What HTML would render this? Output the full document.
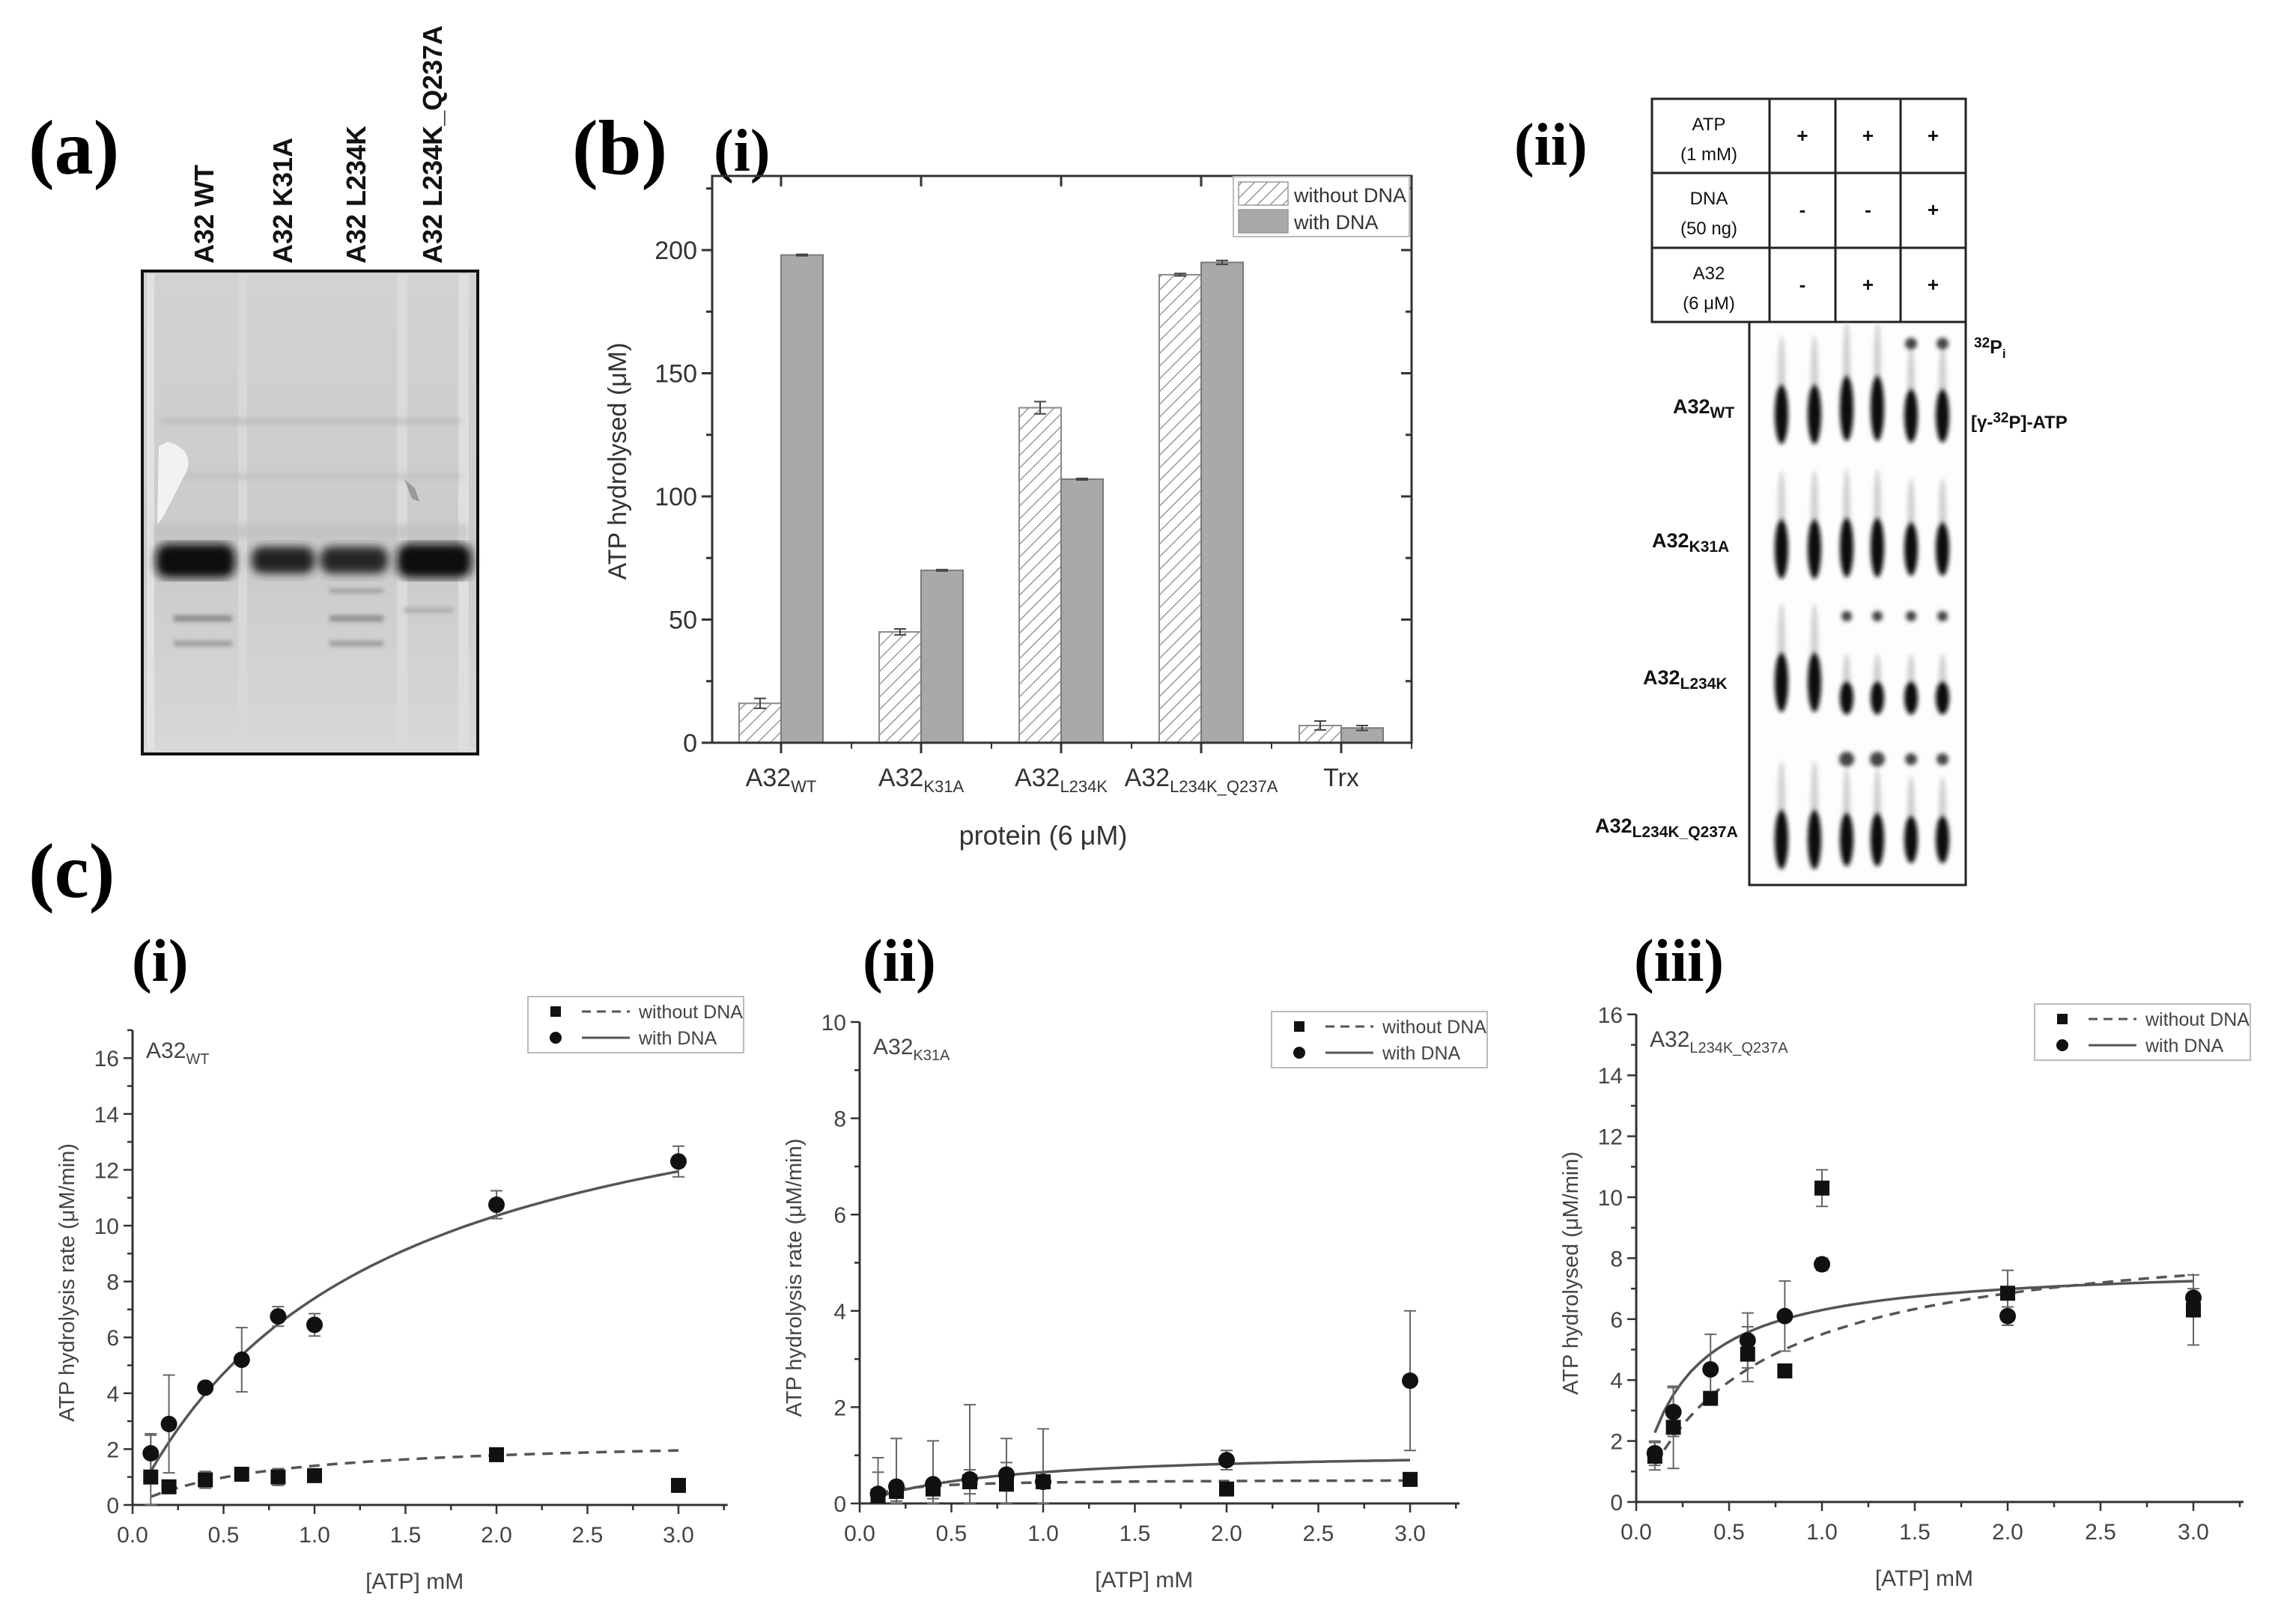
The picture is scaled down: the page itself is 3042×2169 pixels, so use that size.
<!DOCTYPE html>
<html><head><meta charset="utf-8">
<style>
html,body{margin:0;padding:0;background:#fff;}
svg{display:block;}
text{font-family:"Liberation Sans",sans-serif;}
.serif{font-family:"Liberation Serif",serif;font-weight:bold;}
</style></head>
<body>
<svg id="fig" width="3042" height="2169" viewBox="0 0 3042 2169" xmlns="http://www.w3.org/2000/svg">
<defs>
<pattern id="hatch" patternUnits="userSpaceOnUse" width="12" height="12" patternTransform="rotate(45)">
<rect width="12" height="12" fill="#fff"/><line x1="0" y1="0" x2="0" y2="12" stroke="#9a9a9a" stroke-width="3"/>
</pattern>
<filter id="blur4"><feGaussianBlur stdDeviation="4"/></filter>
<filter id="blur6"><feGaussianBlur stdDeviation="6"/></filter>
<filter id="blur3"><feGaussianBlur stdDeviation="3"/></filter>
<linearGradient id="gelg" x1="0" y1="0" x2="0" y2="1">
<stop offset="0" stop-color="#d2d2d2"/><stop offset="0.6" stop-color="#cbcbcb"/><stop offset="1" stop-color="#d8d8d8"/></linearGradient>
</defs>

<!-- panel labels -->
<text class="serif" x="38" y="232" font-size="104">(a)</text>
<text class="serif" x="764" y="232" font-size="104">(b)</text>
<text class="serif" x="953" y="228" font-size="80">(i)</text>
<text class="serif" x="2022" y="220" font-size="80">(ii)</text>
<text class="serif" x="38" y="1198" font-size="104">(c)</text>
<text class="serif" x="176" y="1310" font-size="80">(i)</text>
<text class="serif" x="1152" y="1310" font-size="80">(ii)</text>
<text class="serif" x="2182" y="1310" font-size="80">(iii)</text>

<!-- (a) gel -->
<g>
<rect x="190" y="362" width="448" height="645" fill="url(#gelg)" stroke="#111" stroke-width="4"/>
<rect x="196" y="366" width="10" height="636" fill="#e2e2e2"/>
<rect x="318" y="366" width="12" height="636" fill="#d8d8d8"/>
<rect x="530" y="366" width="14" height="636" fill="#dadada"/>
<rect x="612" y="366" width="14" height="636" fill="#dedede"/>
<g filter="url(#blur4)">
<rect x="215" y="560" width="400" height="5" fill="#b2b2b2"/>
<rect x="215" y="634" width="400" height="5" fill="#bcbcbc"/>
<rect x="205" y="700" width="420" height="20" fill="#bdbdbd" opacity="0.6"/>
</g>
<g filter="url(#blur6)">
<rect x="208" y="726" width="106" height="46" rx="16" fill="#0c0c0c"/>
<rect x="336" y="730" width="84" height="36" rx="14" fill="#222"/>
<rect x="428" y="730" width="90" height="36" rx="14" fill="#252525"/>
<rect x="530" y="726" width="100" height="46" rx="16" fill="#0c0c0c"/>
</g>
<g filter="url(#blur3)">
<rect x="232" y="822" width="78" height="8" fill="#8a8a8a"/>
<rect x="232" y="856" width="78" height="7" fill="#9a9a9a"/>
<rect x="440" y="786" width="72" height="6" fill="#9e9e9e"/>
<rect x="440" y="822" width="72" height="8" fill="#8e8e8e"/>
<rect x="440" y="856" width="72" height="7" fill="#9a9a9a"/>
<rect x="540" y="812" width="65" height="6" fill="#a8a8a8"/>
</g>
<path d="M224 590 Q258 600 250 628 L218 690 L210 700 L212 596 Z" fill="#f2f2f2"/>
<path d="M540 640 l14 12 l6 18 l-10 -4 z" fill="#777" opacity="0.6"/>
</g>
<g font-weight="bold" font-size="36" fill="#111">
<text transform="translate(285,352) rotate(-90)">A32 WT</text>
<text transform="translate(390,352) rotate(-90)">A32 K31A</text>
<text transform="translate(488,352) rotate(-90)">A32 L234K</text>
<text transform="translate(590,352) rotate(-90)">A32 L234K_Q237A</text>
</g>

<!-- (b)(i) bar chart -->
<g id="barchart"></g>

<!-- (b)(ii) TLC table + image -->
<g id="tlc"></g>

<!-- (c) kinetic panels -->
<g id="kin1"></g>
<g id="kin2"></g>
<g id="kin3"></g>
</svg>

<script>
// ---------- bar chart data ----------
const barCats = ['WT', 'K31A', 'L234K', 'L234K_Q237A', 'Trx'];
const barWithout = [16, 45, 136, 190, 7];
const barWithoutErr = [2, 1.2, 2.5, 0.5, 1.8];
const barWith = [198, 70, 107, 195, 6];
const barWithErr = [0.3, 0.3, 0.3, 0.8, 1];
const barTicks = [0, 50, 100, 150, 200];

// ---------- kinetics data ----------
const atpConc = [0.1, 0.2, 0.4, 0.6, 0.8, 1.0, 2.0, 3.0];
const wtWith = [1.85, 2.9, 4.2, 5.2, 6.75, 6.45, 10.75, 12.3];
const wtWithErr = [0.7, 1.75, 0.1, 1.15, 0.35, 0.4, 0.5, 0.55];
const wtWithout = [1.0, 0.65, 0.9, 1.1, 1.0, 1.05, 1.8, 0.7];
const wtWithoutErr = [1.5, 0.1, 0.3, 0.1, 0.3, 0.1, 0.1, 0.15];
const wtFitWith = [17.24, 1.33];
const wtFitWithout = [2.43, 0.734];

const k31aWith = [0.2, 0.35, 0.4, 0.5, 0.6, 0.45, 0.9, 2.55];
const k31aWithErr = [0.75, 1.0, 0.9, 1.55, 0.75, 1.1, 0.2, 1.45];
const k31aWithout = [0.15, 0.25, 0.3, 0.45, 0.4, 0.45, 0.3, 0.5];
const k31aWithoutErr = [0.5, 0.2, 0.2, 0.25, 0.45, 0.1, 0.1, 0.05];
const k31aFitWith = [1.115, 0.715];
const k31aFitWithout = [0.5, 0.15];

const dmWith = [1.6, 2.95, 4.35, 5.3, 6.1, 7.8, 6.1, 6.7];
const dmWithErr = [0.4, 0.8, 1.15, 0.9, 1.15, 0.2, 0.3, 0.3];
const dmWithout = [1.5, 2.45, 3.4, 4.85, 4.3, 10.3, 6.85, 6.3];
const dmWithoutErr = [0.45, 1.35, 0.1, 0.9, 0.1, 0.6, 0.75, 1.15];
const dmFitWith = [7.84, 0.245];
const dmFitWithout = [9.06, 0.647];

const xTickLabels = ['0.0', '0.5', '1.0', '1.5', '2.0', '2.5', '3.0'];

const NS = 'http://www.w3.org/2000/svg';
function mk(tag, attrs, parent, txt) {
  const e = document.createElementNS(NS, tag);
  for (const k in attrs) e.setAttribute(k, attrs[k]);
  if (txt !== undefined) e.textContent = txt;
  parent.appendChild(e);
  return e;
}

// ---------- bar chart ----------
(function () {
  const g = document.getElementById('barchart');
  const L = 951, R = 1885, T = 235, B = 992;
  const by = v => B - v * 3.29;
  const bx = i => 1043 + i * 187;
  const bw = 56;
  barCats.forEach((c, i) => {
    const cx = bx(i);
    const h1 = mk('rect', {x: cx - bw, y: by(barWithout[i]), width: bw, height: B - by(barWithout[i]), fill: 'url(#hatch)', stroke: '#8a8a8a', 'stroke-width': 2}, g);
    
    
    const h2 = mk('rect', {x: cx, y: by(barWith[i]), width: bw, height: B - by(barWith[i]), fill: '#a9a9a9', stroke: '#7a7a7a', 'stroke-width': 2}, g);
    
    
    [[cx - bw / 2, barWithout[i], barWithoutErr[i]], [cx + bw / 2, barWith[i], barWithErr[i]]].forEach(p => {
      const eb = mk('path', {d: `M${p[0] - 8} ${by(p[1] + p[2])}H${p[0] + 8}M${p[0]} ${by(p[1] + p[2])}V${by(p[1] - p[2])}M${p[0] - 8} ${by(p[1] - p[2])}H${p[0] + 8}`, stroke: '#444', 'stroke-width': 2, fill: 'none'}, g);
      
      
    });
    const t = mk('text', {x: cx, y: 1050, 'font-size': 34, 'text-anchor': 'middle', fill: '#333'}, g);
    
    
    if (c === 'Trx') { t.textContent = 'Trx'; }
    else {
      mk('tspan', {}, t, 'A32');
      mk('tspan', {'font-size': 22, dy: 8}, t, c);
    }
    mk('line', {x1: cx, x2: cx, y1: B, y2: B + 14, stroke: '#333', 'stroke-width': 3}, g);
    mk('line', {x1: cx, x2: cx, y1: T, y2: T + 14, stroke: '#333', 'stroke-width': 3}, g);
    mk('line', {x1: cx + 94, x2: cx + 94, y1: B, y2: B + 8, stroke: '#333', 'stroke-width': 2}, g);
  });
  const fr = mk('rect', {x: L, y: T, width: R - L, height: B - T, fill: 'none', stroke: '#333', 'stroke-width': 3}, g);
  
  
  for (let v = 0; v <= 225; v += 25) {
    const major = v % 50 === 0;
    mk('line', {x1: L - (major ? 14 : 8), x2: L, y1: by(v), y2: by(v), stroke: '#333', 'stroke-width': 3}, g);
    mk('line', {x1: R, x2: R - (major ? 14 : 8), y1: by(v), y2: by(v), stroke: '#333', 'stroke-width': 3}, g);
  }
  barTicks.forEach(v => {
    const t = mk('text', {x: L - 20, y: by(v) + 12, 'font-size': 34, 'text-anchor': 'end', fill: '#333'}, g, String(v));
    
    
  });
  const yt = mk('text', {transform: 'translate(836,616) rotate(-90)', 'font-size': 34, 'text-anchor': 'middle', fill: '#333'}, g, 'ATP hydrolysed (μM)');
  
  
  const xt = mk('text', {x: 1393, y: 1128, 'font-size': 36, 'text-anchor': 'middle', fill: '#333'}, g, 'protein (6 μM)');
  
  
  const lg = mk('g', {}, g);
  
  
  mk('rect', {x: 1647, y: 236, width: 235, height: 80, fill: '#fff', stroke: '#bbb', 'stroke-width': 2}, lg);
  mk('rect', {x: 1654, y: 243, width: 66, height: 31, fill: 'url(#hatch)', stroke: '#999', 'stroke-width': 1.5}, lg);
  mk('rect', {x: 1654, y: 280, width: 66, height: 31, fill: '#a9a9a9', stroke: '#999', 'stroke-width': 1.5}, lg);
  const l1 = mk('text', {x: 1728, y: 270, 'font-size': 27, fill: '#333'}, lg, 'without DNA');
  
  
  const l2 = mk('text', {x: 1728, y: 306, 'font-size': 27, fill: '#333'}, lg, 'with DNA');
  
  
})();

// ---------- TLC ----------
(function () {
  const g = document.getElementById('tlc');
  const cols = [2206, 2363, 2451, 2538, 2625];
  const rows = [132, 231, 331, 430];
  const rowTitles = [['ATP', '(1 mM)'], ['DNA', '(50 ng)'], ['A32', '(6 μM)']];
  const signs = [['+', '+', '+'], ['-', '-', '+'], ['-', '+', '+']];
  mk('rect', {x: 2206, y: 132, width: 419, height: 298, fill: 'none', stroke: '#222', 'stroke-width': 3}, g);
  cols.slice(1, 4).forEach(x => mk('line', {x1: x, x2: x, y1: 132, y2: 430, stroke: '#222', 'stroke-width': 3}, g));
  rows.slice(1, 3).forEach(y => mk('line', {x1: 2206, x2: 2625, y1: y, y2: y, stroke: '#222', 'stroke-width': 3}, g));
  rowTitles.forEach((r, i) => {
    const t1 = mk('text', {x: 2282, y: rows[i] + 42, 'font-size': 24, 'text-anchor': 'middle', fill: '#111'}, g, r[0]);
    
    
    mk('text', {x: 2282, y: rows[i] + 82, 'font-size': 24, 'text-anchor': 'middle', fill: '#111'}, g, r[1]);
    signs[i].forEach((s, j) => {
      const st = mk('text', {x: (cols[j + 1] + cols[j + 2]) / 2, y: rows[i] + 58, 'font-size': 26, 'font-weight': 'bold', 'text-anchor': 'middle', fill: '#111'}, g, s);
      
      
    });
  });
  const img = mk('g', {}, g);
  
  
  mk('rect', {x: 2336, y: 430, width: 289, height: 752, fill: '#fdfdfd', stroke: '#222', 'stroke-width': 3}, img);
  const lanes = [2379, 2423, 2466, 2507, 2552, 2594];
  const atpY = [[553, 553, 545, 545, 555, 555], [733, 733, 731, 731, 733, 733], [911, 911, 932, 932, 932, 932], [1121, 1121, 1121, 1121, 1121, 1121]];
  const atpLen = [[50, 50, 55, 55, 45, 45], [50, 50, 50, 50, 45, 45], [50, 50, 28, 28, 28, 28], [50, 50, 45, 45, 40, 40]];
  const piY = [459, 0, 823, 1014];
  const piLanes = [[4, 5], [], [2, 3, 4, 5], [2, 3, 4, 5]];
  const piR = [[8, 8], [], [7, 7, 7, 7], [10, 10, 8, 8]];
  const sp = mk('g', {filter: 'url(#blur3)'}, img);
  atpY.forEach((row, r) => {
    lanes.forEach((x, i) => {
      mk('ellipse', {cx: x, cy: row[i] - atpLen[r][i] * 0.9, rx: 5, ry: atpLen[r][i] * 1.2, fill: '#999', opacity: 0.45}, sp);
      mk('ellipse', {cx: x, cy: row[i], rx: 9, ry: atpLen[r][i] * 0.8, fill: '#111'}, sp);
    });
    piLanes[r].forEach((li, k) => mk('circle', {cx: lanes[li], cy: piY[r], r: piR[r][k], fill: '#444'}, sp));
  });
  const labs = [['WT', 552, 2234], ['K31A', 731, 2206], ['L234K', 914, 2194], ['L234K_Q237A', 1112, 2130]];
  labs.forEach(l => {
    const t = mk('text', {x: l[2], y: l[1], 'font-size': 27, 'font-weight': 'bold', fill: '#111'}, g);
    
    
    mk('tspan', {}, t, 'A32');
    mk('tspan', {'font-size': 21, dy: 6}, t, l[0]);
  });
  const pi = mk('text', {x: 2636, y: 470, 'font-size': 25, 'font-weight': 'bold', fill: '#111'}, g);
  
  
  mk('tspan', {'font-size': 19, dy: -6}, pi, '32');
  mk('tspan', {dy: 8}, pi, 'P');
  mk('tspan', {'font-size': 17, dy: 6}, pi, 'i');
  const atp = mk('text', {x: 2632, y: 572, 'font-size': 24, 'font-weight': 'bold', fill: '#111'}, g);
  
  
  mk('tspan', {}, atp, '[γ-');
  mk('tspan', {'font-size': 19, dy: -8}, atp, '32');
  mk('tspan', {dy: 8}, atp, 'P]-ATP');
})();

// ---------- kinetics panels ----------
function kinPanel(id, geo, title, yTitle, sub, withV, withE, woV, woE, fitW, fitWo) {
  const g = document.getElementById(id);
  const X = x => geo.x0 + x * geo.sx;
  const Y = v => geo.y0 - v * geo.sy;
  const xEnd = geo.x0 + 3.27 * geo.sx;
  const yTop = Y(geo.ymax);
  const ax = mk('path', {d: `M${geo.x0} ${yTop}V${geo.y0}H${xEnd}`, stroke: '#333', 'stroke-width': 3, fill: 'none'}, g);
  
  
  for (let k = 0; k <= 13; k++) {
    const x = X(k * 0.25);
    const major = k % 2 === 0;
    mk('line', {x1: x, x2: x, y1: geo.y0, y2: geo.y0 + (major ? 12 : 7), stroke: '#333', 'stroke-width': 2.5}, g);
  }
  xTickLabels.forEach((lab, k) => {
    const t = mk('text', {x: X(k * 0.5), y: geo.y0 + 50, 'font-size': 30, 'text-anchor': 'middle', fill: '#444'}, g, lab);
    
    
  });
  for (let v = 0; v <= geo.ymax; v += geo.minor) {
    const major = Math.round(v / geo.major * 1000) % 1000 === 0;
    mk('line', {x1: geo.x0 - (major ? 12 : 7), x2: geo.x0, y1: Y(v), y2: Y(v), stroke: '#333', 'stroke-width': 2.5}, g);
    if (major) {
      const t = mk('text', {x: geo.x0 - 18, y: Y(v) + 11, 'font-size': 30, 'text-anchor': 'end', fill: '#444'}, g, String(v));
      
      
    }
  }
  const yt = mk('text', {transform: `translate(${geo.x0 - 78},${(geo.y0 + yTop) / 2 + 20}) rotate(-90)`, 'font-size': 29, 'text-anchor': 'middle', fill: '#444'}, g, yTitle);
  
  
  const xt = mk('text', {x: X(1.55), y: geo.y0 + 112, 'font-size': 30, 'text-anchor': 'middle', fill: '#444'}, g, '[ATP] mM');
  
  
  const tt = mk('text', {x: geo.x0 + 18, y: geo.titleY, 'font-size': 30, fill: '#444'}, g);
  
  
  mk('tspan', {}, tt, 'A32');
  mk('tspan', {'font-size': 20, dy: 8}, tt, sub);
  function curve(p, dash, name) {
    let d = '';
    for (let k = 0; k <= 60; k++) {
      const x = 0.1 + 2.9 * k / 60;
      const v = p[0] * x / (p[1] + x);
      d += (k ? 'L' : 'M') + X(x).toFixed(1) + ' ' + Y(v).toFixed(1);
    }
    const c = mk('path', {d: d, fill: 'none', stroke: '#555', 'stroke-width': 3.5, 'stroke-dasharray': dash}, g);
    
    
  }
  curve(fitWo, '14 10', 'fit-line-without-dna');
  curve(fitW, 'none', 'fit-line-with-dna');
  function errs(vals, es) {
    atpConc.forEach((x, i) => {
      const cx = X(x), t = Y(vals[i] + es[i]), b = Y(Math.max(0, vals[i] - es[i]));
      const e = mk('path', {d: `M${cx - 8} ${t}H${cx + 8}M${cx} ${t}V${b}M${cx - 8} ${b}H${cx + 8}`, stroke: '#666', 'stroke-width': 2, fill: 'none'}, g);
      
      
    });
  }
  errs(woV, woE); errs(withV, withE);
  atpConc.forEach((x, i) => {
    const s = mk('rect', {x: X(x) - 10, y: Y(woV[i]) - 10, width: 20, height: 20, fill: '#111'}, g);
    
    
    const c = mk('circle', {cx: X(x), cy: Y(withV[i]), r: 11, fill: '#111'}, g);
    
    
  });
  const lg = mk('g', {}, g);
  
  
  const lx = geo.lx, ly = geo.ly;
  mk('rect', {x: lx, y: ly, width: 288, height: 75, fill: '#fff', stroke: '#bbb', 'stroke-width': 2}, lg);
  mk('rect', {x: lx + 30, y: ly + 13, width: 14, height: 14, fill: '#111'}, lg);
  mk('circle', {cx: lx + 37, cy: ly + 55, r: 8, fill: '#111'}, lg);
  mk('line', {x1: lx + 72, x2: lx + 136, y1: ly + 20, y2: ly + 20, stroke: '#555', 'stroke-width': 3, 'stroke-dasharray': '12 8'}, lg);
  mk('line', {x1: lx + 72, x2: lx + 136, y1: ly + 55, y2: ly + 55, stroke: '#555', 'stroke-width': 3}, lg);
  const a = mk('text', {x: lx + 148, y: ly + 29, 'font-size': 25, fill: '#444'}, lg, 'without DNA');
  
  
  const b = mk('text', {x: lx + 148, y: ly + 64, 'font-size': 25, fill: '#444'}, lg, 'with DNA');
  
  
}
kinPanel('kin1', {x0: 177, sx: 243, y0: 2010, sy: 37.3, ymax: 17, major: 2, minor: 1, lx: 705, ly: 1331, titleY: 1413},
  'wt', 'ATP hydrolysis rate (μM/min)', 'WT', wtWith, wtWithErr, wtWithout, wtWithoutErr, wtFitWith, wtFitWithout);
kinPanel('kin2', {x0: 1148, sx: 245, y0: 2008, sy: 64.3, ymax: 10, major: 2, minor: 1, lx: 1698, ly: 1351, titleY: 1408},
  'k31a', 'ATP hydrolysis rate (μM/min)', 'K31A', k31aWith, k31aWithErr, k31aWithout, k31aWithoutErr, k31aFitWith, k31aFitWithout);
kinPanel('kin3', {x0: 2185, sx: 248, y0: 2006, sy: 40.7, ymax: 16, major: 2, minor: 1, lx: 2717, ly: 1341, titleY: 1398},
  'dm', 'ATP hydrolysed (μM/min)', 'L234K_Q237A', dmWith, dmWithErr, dmWithout, dmWithoutErr, dmFitWith, dmFitWithout);
</script>
</body></html>
